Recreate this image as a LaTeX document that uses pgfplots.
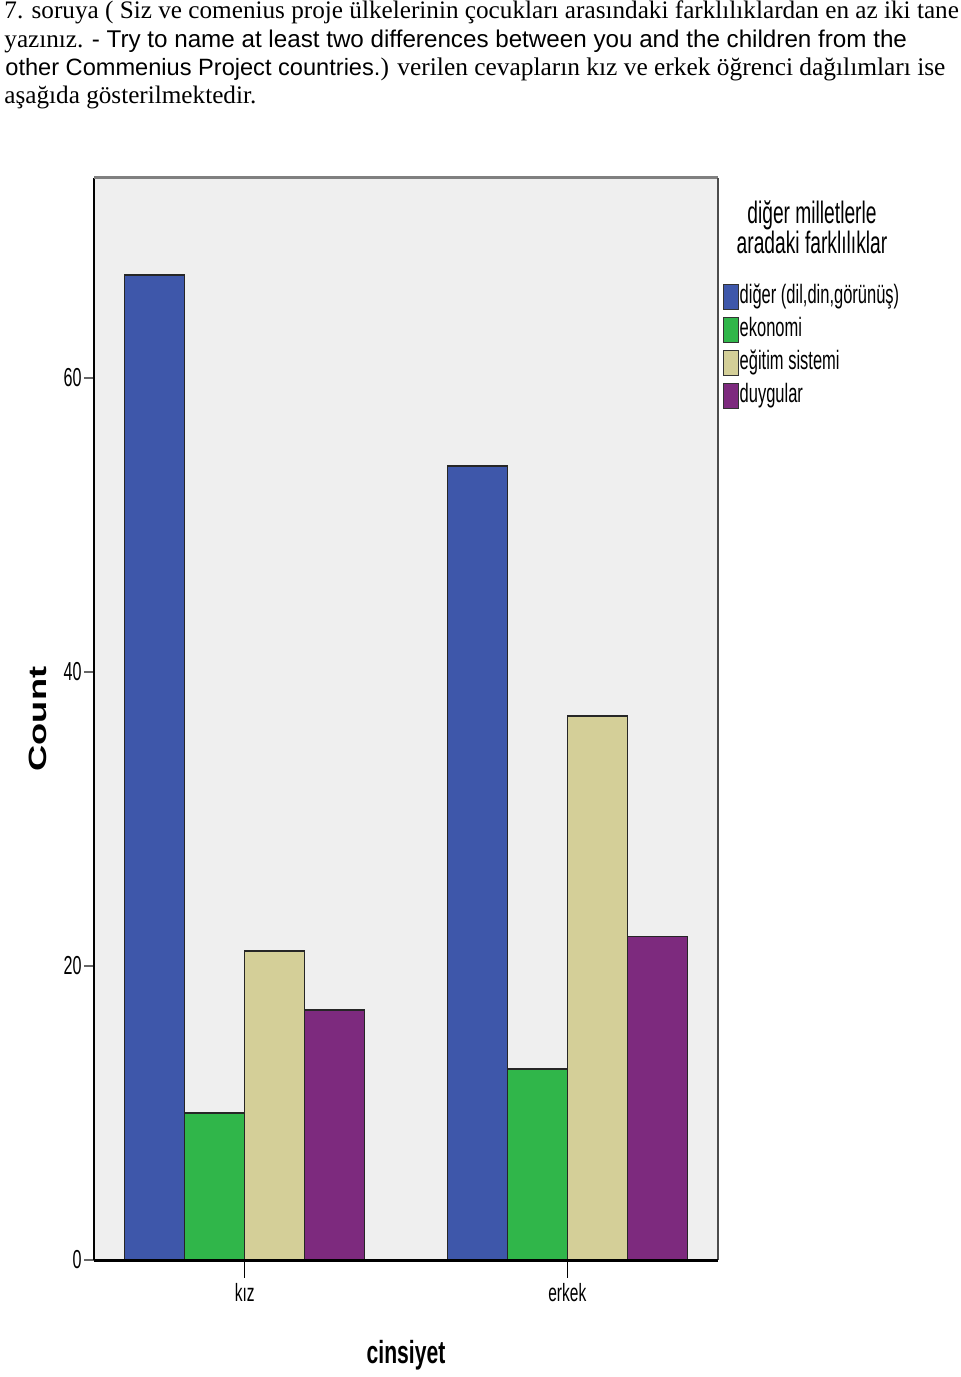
\documentclass[border=0pt]{standalone}
\usepackage{fontspec}
\setmainfont{Liberation Serif}
\newfontfamily\arialf{Liberation Sans}
\newfontfamily\cond[FakeStretch=0.62]{Liberation Sans}
\newfontfamily\condb[FakeStretch=0.66]{Liberation Sans}
\usepackage{graphicx}
\usepackage{pgfplots}
\pgfplotsset{compat=1.18}

\definecolor{cblue}{RGB}{62,87,170}
\definecolor{cgreen}{RGB}{48,182,74}
\definecolor{cbeige}{RGB}{212,207,152}
\definecolor{cpurple}{RGB}{125,42,126}
\definecolor{plotbg}{RGB}{239,239,239}

\pgfplotsset{
 lg/.style={legend image code/.code={\draw[##1,draw=black!80,line width=0.6pt] (0pt,-6.25pt) rectangle (7.5pt,6.25pt);}},
}

\begin{document}
\begin{tikzpicture}
\path[use as bounding box] (0,0) rectangle (480pt,-688.5pt);

% header text, serif and sans mixed as in the source document
\node[anchor=base west,inner sep=0] at (2pt,-9pt) {\fontsize{12.6}{15}\selectfont 7. soruya ( Siz ve comenius proje ülkelerinin çocukları arasındaki farklılıklardan en az iki tane};
\node[anchor=base west,inner sep=0] at (2pt,-23.5pt) {\fontsize{12.6}{15}\selectfont yazınız. {\arialf\fontsize{12.1}{15}\selectfont - Try to name at least two differences between you and the children from the}};
\node[anchor=base west,inner sep=0] at (2.5pt,-37.5pt) {{\arialf\fontsize{11.8}{15}\selectfont other Commenius Project countries.}\fontsize{12.7}{15}\selectfont) verilen cevapların kız ve erkek öğrenci dağılımları ise};
\node[anchor=base west,inner sep=0] at (2pt,-51.5pt) {\fontsize{12.6}{15}\selectfont aşağıda gösterilmektedir.};

\begin{axis}[at={(47pt,-630pt)},anchor=south west,scale only axis,
 width=312pt,height=541pt,
 ybar=0pt,bar width=30pt,clip=false,
 xmin=-0.467,xmax=1.467,ymin=0,ymax=73.6,
 xtick={0,1},xticklabels={kız,erkek},
 ytick={0,20,40,60},
 xtick pos=bottom,ytick pos=left,
 axis background/.style={fill=plotbg},
 axis line style={draw=none},
 tick align=outside,major tick length=5pt,
 ytick style={draw=black!60,line width=1.2pt},
 xtick style={draw=none},
 /pgf/number format/assume math mode=true,
 yticklabel style={font=\cond\fontsize{13}{13}\selectfont,inner sep=1pt},
 xticklabel style={font=\cond\fontsize{12.5}{12.5}\selectfont,anchor=north,yshift=-3.3pt},
 ylabel={\scalebox{1.45}[1]{\arialf\bfseries\fontsize{12.5}{12.5}\selectfont Count}},
 ylabel style={at={(axis description cs:-0.0897,0.5)},anchor=center},
 xlabel={\condb\bfseries\fontsize{16}{16}\selectfont cinsiyet},
 xlabel style={at={(axis description cs:0.5,-0.0878)},anchor=center},
 legend style={at={(0.997,0.909)},anchor=north west,draw=none,fill=none,
  font=\cond\fontsize{13.3}{13.3}\selectfont,
  nodes={text height=11pt,text depth=4pt,inner sep=0.5pt},row sep=0.5pt},
 legend cell align=left,
]
\addplot[fill=cblue,draw=black!85,line width=0.8pt,lg] coordinates {(0,67) (1,54)};
\addlegendentry{diğer (dil,din,görünüş)}
\addplot[fill=cgreen,draw=black!85,line width=0.8pt,lg] coordinates {(0,10) (1,13)};
\addlegendentry{ekonomi}
\addplot[fill=cbeige,draw=black!85,line width=0.8pt,lg] coordinates {(0,21) (1,37)};
\addlegendentry{eğitim sistemi}
\addplot[fill=cpurple,draw=black!85,line width=0.8pt,lg] coordinates {(0,17) (1,22)};
\addlegendentry{duygular}
% frame of the plot area
\draw[black,line width=0.8pt] (rel axis cs:0,0) -- (rel axis cs:0,1);
\draw[black!50,line width=1.5pt] (rel axis cs:0,1) -- (rel axis cs:1,1);
\draw[black!70,line width=1pt] (rel axis cs:1,0) -- (rel axis cs:1,1);
\draw[black,line width=1.5pt] (rel axis cs:0,0) -- (rel axis cs:1,0);
\draw[black,line width=0.6pt] (axis cs:0,0) -- ([yshift=-9pt]axis cs:0,0);
\draw[black,line width=0.6pt] (axis cs:1,0) -- ([yshift=-9pt]axis cs:1,0);
\end{axis}

\node[anchor=base,inner sep=0,font=\cond\fontsize{15.5}{15.5}\selectfont] at (406pt,-111.5pt) {diğer milletlerle};
\node[anchor=base,inner sep=0,font=\cond\fontsize{15.5}{15.5}\selectfont] at (406pt,-126.5pt) {aradaki farklılıklar};
\end{tikzpicture}
\end{document}
